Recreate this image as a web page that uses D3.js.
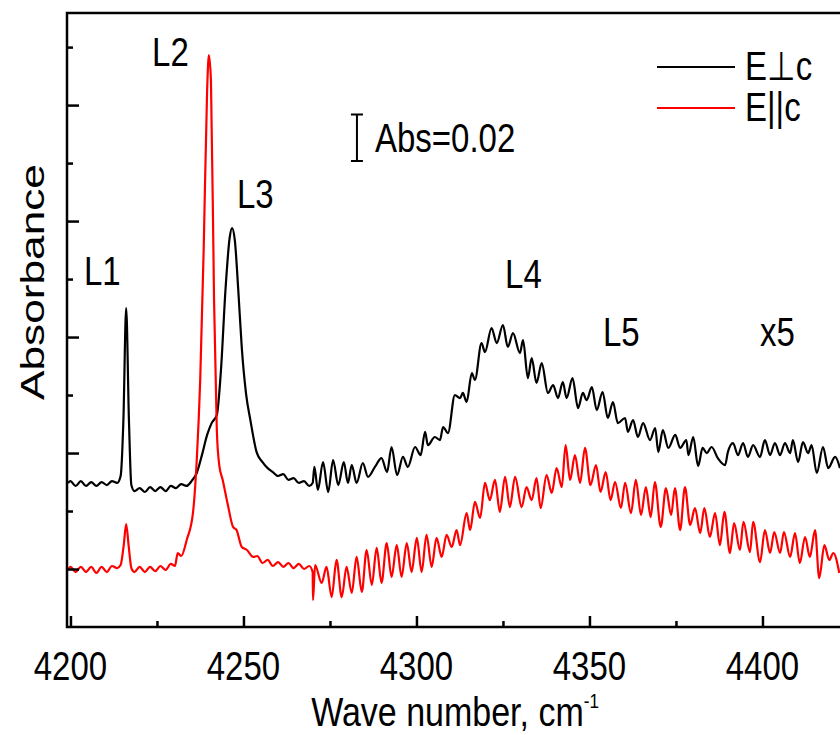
<!DOCTYPE html>
<html>
<head>
<meta charset="utf-8">
<script src="https://cdn.jsdelivr.net/npm/d3@7"></script>
<style>
  body { margin: 0; background: #fff; }
  svg { display: block; }
</style>
</head>
<body>
<svg id="chart" width="840" height="735"></svg>
<script>
// E perpendicular c (black); above 4270 cm-1 shown x5
const perpWave = [4199.3, 4200.0, 4201.5, 4203.0, 4204.5, 4206.0, 4207.5, 4209.0, 4210.5, 4212.0, 4213.5, 4214.5, 4215.3, 4216.1, 4216.9, 4217.6, 4218.5, 4220.0, 4221.5, 4223.0, 4224.5, 4226.0, 4227.5, 4229.0, 4230.5, 4232.0, 4233.5, 4235.0, 4236.5, 4238.0, 4239.5, 4240.8, 4242.3, 4243.5, 4244.8, 4246.0, 4246.7, 4247.5, 4248.5, 4249.5, 4250.8, 4252.0, 4253.8, 4255.5, 4257.0, 4258.5, 4260.0, 4261.5, 4263.0, 4264.5, 4266.0, 4267.5, 4269.0, 4270.0,
  4270.5, 4271.5, 4273.0, 4274.5, 4275.9, 4277.4, 4279.0, 4280.2, 4281.3, 4282.7, 4284.5, 4286.0, 4288.0, 4289.9, 4291.5, 4292.8, 4294.4, 4296.1, 4297.5, 4299.6, 4301.2, 4302.5, 4303.3, 4305.3, 4306.8, 4307.7, 4309.1, 4311.1, 4312.6, 4313.4, 4314.5, 4316.0, 4316.9, 4318.8, 4319.8, 4321.7, 4323.2, 4325.0, 4326.4, 4327.9, 4329.9, 4330.8, 4332.2, 4333.3, 4334.7, 4336.2, 4338.0, 4339.5, 4340.9, 4342.3, 4343.4, 4345.1, 4346.7, 4348.1, 4349.2, 4350.7, 4352.1, 4353.8, 4355.3, 4356.8, 4358.2, 4360.3, 4361.1, 4362.6, 4364.0, 4365.5, 4367.5, 4369.0, 4369.9, 4371.2, 4372.8, 4374.8, 4376.2, 4378.0, 4378.6, 4380.0, 4381.4, 4382.7, 4383.9, 4385.3, 4387.1, 4389.2, 4390.0, 4391.5, 4392.9, 4394.4, 4395.8, 4397.3, 4399.3, 4400.7, 4402.2, 4403.6, 4405.1, 4406.5, 4408.0, 4408.8, 4410.3, 4411.7, 4413.2, 4414.2, 4415.7, 4417.5, 4419.0, 4421.0, 4422.4];
const perpAbs = [0.0371, 0.0379, 0.0358, 0.0379, 0.0358, 0.0375, 0.0358, 0.0375, 0.0362, 0.0379, 0.0371, 0.0401, 0.0642, 0.1125, 0.0642, 0.0362, 0.0336, 0.0349, 0.0332, 0.0353, 0.0336, 0.0353, 0.0336, 0.0358, 0.0349, 0.0366, 0.0358, 0.0379, 0.0414, 0.0491, 0.0578, 0.0629, 0.0664, 0.0858, 0.1203, 0.1427, 0.1470, 0.1418, 0.1203, 0.0957, 0.0750, 0.0642, 0.0504, 0.0461, 0.0435, 0.0418, 0.0401, 0.0409, 0.0384, 0.0392, 0.0371, 0.0379, 0.0358, 0.0371,
  0.0440, 0.0341, 0.0461, 0.0332, 0.0470, 0.0362, 0.0461, 0.0371, 0.0448, 0.0371, 0.0457, 0.0397, 0.0440, 0.0478, 0.0418, 0.0526, 0.0405, 0.0483, 0.0440, 0.0526, 0.0491, 0.0591, 0.0534, 0.0569, 0.0556, 0.0612, 0.0586, 0.0750, 0.0737, 0.0759, 0.0720, 0.0845, 0.0815, 0.0974, 0.0935, 0.1039, 0.0974, 0.1052, 0.0957, 0.1017, 0.0931, 0.0987, 0.0823, 0.0909, 0.0802, 0.0888, 0.0759, 0.0793, 0.0737, 0.0806, 0.0737, 0.0823, 0.0694, 0.0759, 0.0728, 0.0784, 0.0685, 0.0763, 0.0651, 0.0720, 0.0629, 0.0651, 0.0591, 0.0642, 0.0569, 0.0629, 0.0556, 0.0608, 0.0504, 0.0599, 0.0522, 0.0578, 0.0522, 0.0556, 0.0491, 0.0569, 0.0444, 0.0522, 0.0500, 0.0526, 0.0478, 0.0448, 0.0504, 0.0543, 0.0491, 0.0543, 0.0483, 0.0534, 0.0483, 0.0556, 0.0491, 0.0543, 0.0491, 0.0543, 0.0500, 0.0556, 0.0461, 0.0547, 0.0500, 0.0534, 0.0414, 0.0526, 0.0435, 0.0483, 0.0435];

// E parallel c (red)
const paraWave = [4199.3, 4200.0, 4201.5, 4203.0, 4204.5, 4206.0, 4207.5, 4209.0, 4210.5, 4212.0, 4213.5, 4214.5, 4215.4, 4216.1, 4216.8, 4217.6, 4218.5, 4220.0, 4221.5, 4223.0, 4224.5, 4226.0, 4227.5, 4229.0, 4230.2, 4231.0, 4232.0, 4233.6, 4235.4, 4236.5, 4237.5, 4238.5, 4239.5, 4240.0, 4240.6, 4241.5, 4242.3, 4243.0, 4244.0, 4245.5, 4247.0, 4248.0, 4249.5, 4251.0, 4252.8, 4254.0, 4255.5, 4257.0, 4258.5, 4260.0, 4261.5, 4263.0, 4264.5, 4266.0, 4267.5, 4269.0, 4270.0,
  4270.1, 4270.7, 4272.6, 4274.0, 4275.5, 4276.9, 4278.4, 4279.8, 4281.3, 4282.7, 4284.2, 4285.6, 4287.1, 4288.5, 4289.9, 4291.4, 4292.8, 4294.3, 4295.7, 4297.2, 4298.6, 4300.1, 4301.5, 4302.9, 4304.4, 4305.8, 4307.3, 4308.7, 4310.2, 4311.6, 4312.6, 4314.5, 4315.5, 4316.9, 4318.4, 4319.8, 4321.2, 4322.7, 4324.1, 4325.6, 4327.0, 4328.5, 4330.4, 4331.8, 4333.3, 4334.7, 4335.9, 4337.6, 4339.1, 4340.5, 4342.0, 4343.1, 4344.4, 4345.8, 4347.3, 4348.7, 4350.3, 4351.9, 4353.2, 4354.7, 4356.1, 4357.4, 4359.1, 4360.3, 4362.0, 4363.4, 4364.9, 4366.3, 4367.7, 4368.9, 4370.6, 4372.1, 4373.6, 4374.7, 4376.2, 4377.6, 4379.1, 4380.5, 4382.0, 4383.2, 4384.8, 4386.3, 4387.7, 4389.0, 4390.6, 4391.8, 4393.5, 4394.5, 4396.4, 4397.3, 4399.3, 4400.7, 4402.2, 4403.4, 4405.1, 4406.2, 4408.0, 4409.4, 4410.8, 4412.3, 4413.7, 4415.2, 4416.4, 4417.9, 4419.3, 4420.5, 4422.2];
const paraAbs = [-0.0004, 0.0009, -0.0013, 0.0009, -0.0013, 0.0009, -0.0017, 0.0009, -0.0013, 0.0013, 0.0004, 0.0017, 0.0103, 0.0194, 0.0103, 0.0004, -0.0013, 0.0009, -0.0013, 0.0009, -0.0009, 0.0013, -0.0004, 0.0022, 0.0013, 0.0069, 0.0056, 0.0125, 0.0241, 0.0470, 0.0815, 0.1375, 0.2065, 0.2216, 0.2108, 0.1159, 0.0599, 0.0448, 0.0384, 0.0276, 0.0181, 0.0168, 0.0095, 0.0082, 0.0052, 0.0056, 0.0026, 0.0039, 0.0013, 0.0030, 0.0009, 0.0026, 0.0004, 0.0022, 0.0000, 0.0013, -0.0013,
  -0.0134, 0.0017, -0.0060, 0.0009, -0.0121, 0.0039, -0.0121, 0.0009, -0.0103, 0.0052, -0.0099, 0.0082, -0.0069, 0.0091, -0.0060, 0.0112, -0.0034, 0.0103, -0.0034, 0.0112, -0.0013, 0.0134, -0.0013, 0.0147, 0.0009, 0.0134, 0.0052, 0.0147, 0.0095, 0.0168, 0.0103, 0.0241, 0.0168, 0.0289, 0.0220, 0.0371, 0.0297, 0.0384, 0.0246, 0.0397, 0.0267, 0.0397, 0.0267, 0.0353, 0.0297, 0.0392, 0.0263, 0.0405, 0.0328, 0.0435, 0.0353, 0.0534, 0.0384, 0.0491, 0.0371, 0.0522, 0.0362, 0.0448, 0.0332, 0.0418, 0.0297, 0.0375, 0.0263, 0.0371, 0.0241, 0.0384, 0.0233, 0.0353, 0.0224, 0.0375, 0.0181, 0.0349, 0.0233, 0.0349, 0.0168, 0.0353, 0.0190, 0.0263, 0.0155, 0.0263, 0.0138, 0.0241, 0.0103, 0.0246, 0.0069, 0.0198, 0.0082, 0.0203, 0.0073, 0.0203, 0.0030, 0.0168, 0.0069, 0.0159, 0.0069, 0.0159, 0.0052, 0.0155, 0.0026, 0.0138, 0.0052, 0.0168, -0.0039, 0.0103, 0.0039, 0.0069, -0.0017];

const xMajorTicks = [4200, 4250, 4300, 4350, 4400];
const xMinorTicks = [4225, 4275, 4325, 4375, 4425];
const yMajorTicks = [0, 0.05, 0.1, 0.15, 0.2];
const yMinorTicks = [0.025, 0.075, 0.125, 0.175, 0.225];

// peak labels, placed at (wavenumber, absorbance)
const peakNames = ["L1", "L2", "L3", "L4", "L5", "x5"];
const peakWave = [4203.9, 4223.6, 4248.1, 4325.6, 4353.9, 4399.3];
const peakAbs = [0.1224, 0.2168, 0.1556, 0.1211, 0.0961, 0.0961];

const scaleBarWave = 4282.8;
const scaleBarFrom = 0.1759;
const scaleBarSize = 0.02;

const legendNames = ["E\u22A5c", "E||c"];
const legendColors = ["#000000", "#ff0000"];

const svg = d3.select("#chart");
const font = "'Liberation Sans', Arial, sans-serif";
const fs = 33;
const sy = 1.22; // the picture's text is stretched vertically

const mLeft = 67, mTop = 13, mBottom = 627, mRight = 840;

const x = d3.scaleLinear().domain([4199, 4425]).range([mLeft, mLeft + 226 * 3.46]);
const y = d3.scaleLinear().domain([-0.025, 0.2397]).range([mBottom, mTop]);

svg.append("clipPath").attr("id", "clip")
  .append("rect").attr("x", mLeft).attr("y", mTop)
  .attr("width", mRight - mLeft).attr("height", mBottom - mTop);

function label(g, tx, ty, str, anchor, size, rot, stretch) {
  return g.append("text")
    .attr("transform", `translate(${tx},${ty}) scale(1,${stretch || sy})` + (rot ? ` rotate(${rot})` : ""))
    .attr("text-anchor", anchor || "start")
    .style("font-family", font)
    .style("font-size", (size || fs) + "px")
    .text(str);
}

// curves
const lineGen = (xs, ys) => d3.line()
  .x((d, i) => x(xs[i]))
  .y((d, i) => y(ys[i]))
  .curve(d3.curveMonotoneX)(xs);

const plot = svg.append("g").attr("clip-path", "url(#clip)");
plot.append("path")
  .attr("d", lineGen(perpWave, perpAbs))
  .attr("fill", "none").attr("stroke", legendColors[0]).attr("stroke-width", 2.2);
plot.append("path")
  .attr("d", lineGen(paraWave, paraAbs))
  .attr("fill", "none").attr("stroke", legendColors[1]).attr("stroke-width", 2.2);

// axes, ticks pointing inward
const axW = 2.5;
const xAxis = svg.append("g").attr("transform", `translate(0,${mBottom})`)
  .call(d3.axisBottom(x).tickValues(xMajorTicks).tickSize(-11).tickSizeOuter(0).tickFormat(d3.format("d")));
svg.append("g").attr("transform", `translate(0,${mBottom})`)
  .call(d3.axisBottom(x).tickValues(xMinorTicks).tickSize(-6).tickSizeOuter(0).tickFormat(""));
svg.append("g").attr("transform", `translate(${mLeft},0)`)
  .call(d3.axisLeft(y).tickValues(yMajorTicks).tickSize(-12).tickSizeOuter(0).tickFormat(""));
svg.append("g").attr("transform", `translate(${mLeft},0)`)
  .call(d3.axisLeft(y).tickValues(yMinorTicks).tickSize(-6).tickSizeOuter(0).tickFormat(""));
svg.selectAll(".domain").remove();
svg.selectAll(".tick line").attr("stroke", "#000").attr("stroke-width", axW);

xAxis.selectAll(".tick text").remove();
xMajorTicks.forEach((t) => label(svg, x(t), 680, t, "middle"));

svg.append("path")
  .attr("d", `M${mRight + 5},${mTop}H${mLeft}V${mBottom}H${mRight + 5}`)
  .attr("fill", "none").attr("stroke", "#000").attr("stroke-width", axW);

// axis titles
const xt = label(svg, 455, 726, "Wave number, cm", "middle", 34);
xt.append("tspan").attr("dy", -15).style("font-size", "17px").text("-1");
label(svg, 44, 282, "Absorbance", "middle", 34, -90, 1.3);

// peak labels
peakNames.forEach((n, i) => label(svg, x(peakWave[i]), y(peakAbs[i]), n));

// scale bar
const sbx = x(scaleBarWave);
const sb0 = y(scaleBarFrom), sb1 = y(scaleBarFrom + scaleBarSize);
svg.append("path")
  .attr("d", `M${sbx},${sb0}V${sb1}M${sbx - 6},${sb0}H${sbx + 6}M${sbx - 6},${sb1}H${sbx + 6}`)
  .attr("fill", "none").attr("stroke", "#000").attr("stroke-width", 2);
label(svg, 375, 152, "Abs=0.02");

// legend
legendNames.forEach((n, i) => {
  const ly = 67 + i * 41;
  svg.append("line").attr("x1", 657).attr("x2", 735).attr("y1", ly).attr("y2", ly)
    .attr("stroke", legendColors[i]).attr("stroke-width", 2.2);
  label(svg, 745, ly + 13, n);
});
</script>
</body>
</html>
